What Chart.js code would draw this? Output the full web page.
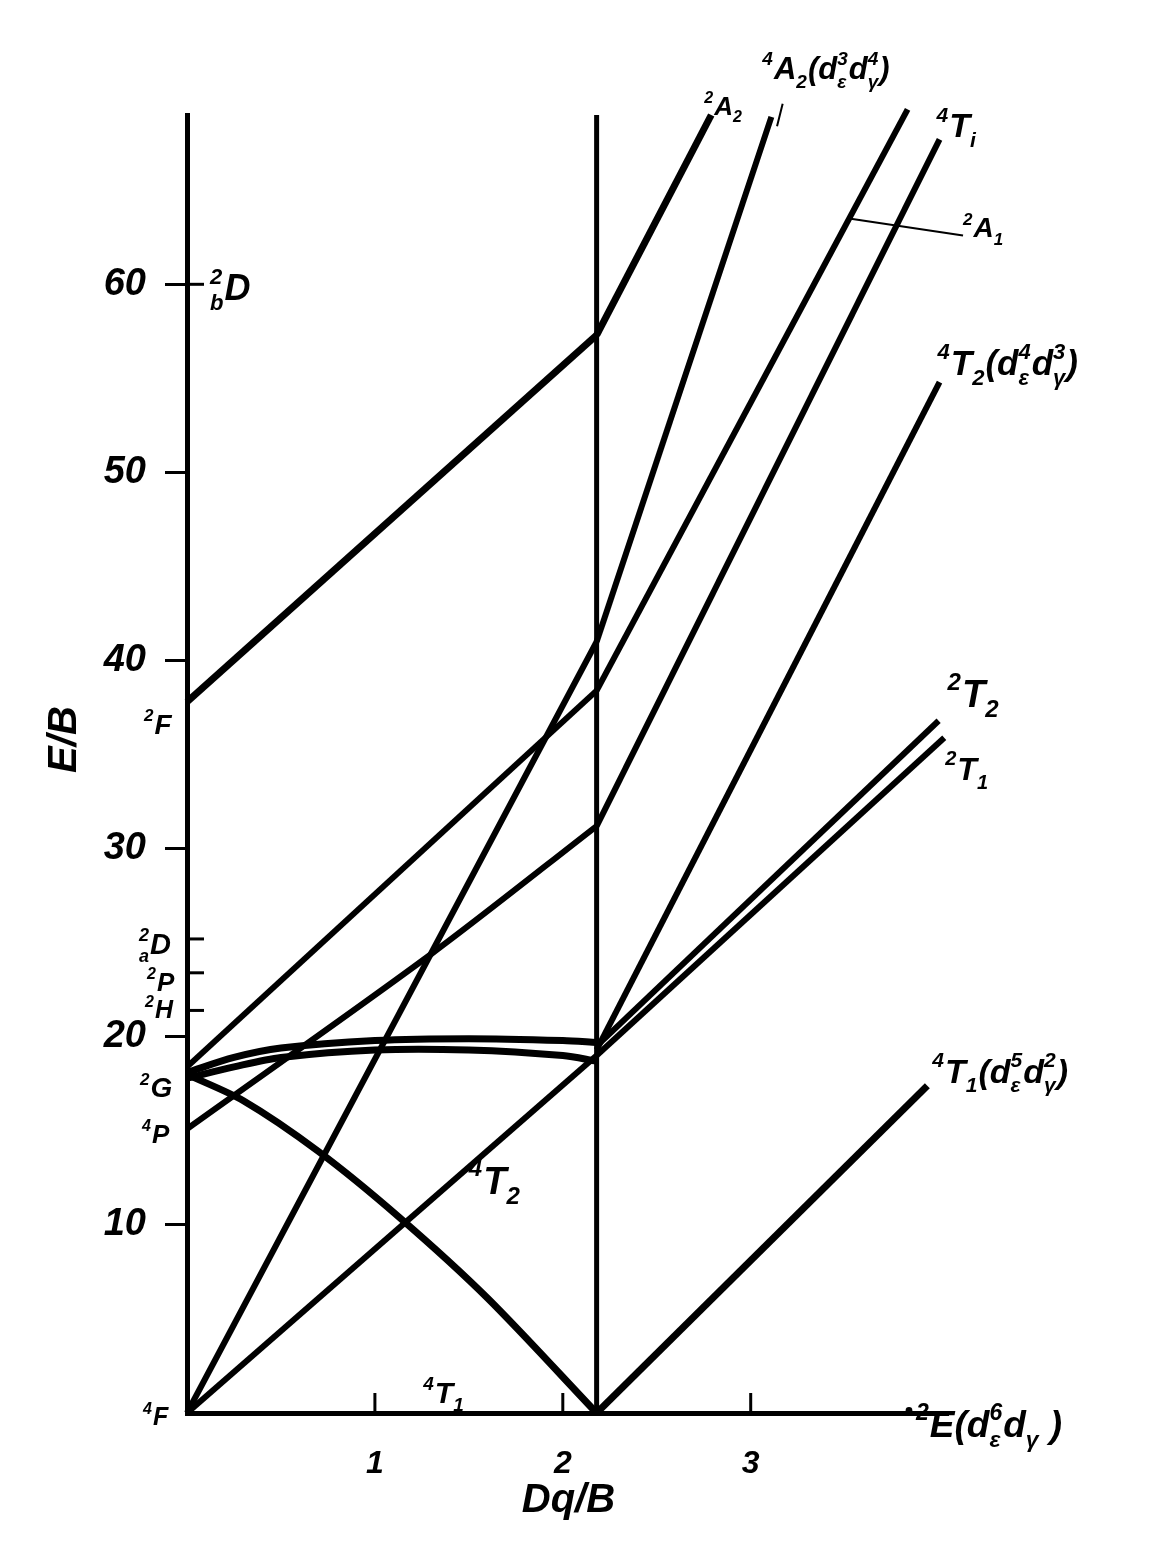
<!DOCTYPE html>
<html><head><meta charset="utf-8">
<script src="https://cdn.jsdelivr.net/npm/chart.js@4.4.1/dist/chart.umd.min.js"></script>
<style>html,body{margin:0;padding:0;background:#fff}canvas{display:block}</style>
</head><body>
<canvas id="c" width="1151" height="1556"></canvas>
<script>
// ---- data ----
const crossover = 2.18;
const yMax = 69;
const xMax = 4.05;
const yTicks = [10, 20, 30, 40, 50, 60];
const xTicks = [1, 2, 3];
const termTickLevels = [21.4, 23.4, 25.2]; // 2H, 2P, 2aD (60 = 2bD)

const line2F_left   = [[0,37.8],[2.18,57.3]];
const line2A2_right = [[2.18,57.3],[2.79,69.0]];
const line4A2_left  = [[0,0],[2.18,41.0]];
const line4A2_right = [[2.18,41.0],[3.11,68.9]];
const line2A1_left  = [[0,18.4],[2.18,38.4]];
const line2A1_right = [[2.18,38.4],[3.835,69.3]];
const line4T1P_left = [[0,15.1],[1.3,24.4],[2.18,31.2]];
const line4T1P_right= [[2.18,31.2],[4.005,67.7]];
const line2T2_left  = [[0,18.1],[0.25,18.9],[0.5,19.4],[1.0,19.8],[1.5,19.9],[2.0,19.8],[2.18,19.7]];
const line2T1_left  = [[0,17.8],[0.25,18.4],[0.5,18.9],[1.0,19.3],[1.5,19.3],[2.0,19.0],[2.18,18.7]];
const line2E_left   = [[0,18.0],[0.3,16.6],[0.7,13.9],[1.13,10.4],[1.6,6.1],[2.18,0]];
const line4T2_left  = [[0,0],[2.18,19.0]];
const line4T2_right = [[2.18,19.3],[4.005,54.8]];
const line2T2_right = [[2.18,19.5],[4.0,36.8]];
const line2T1_right = [[2.18,19.0],[4.03,35.9]];
const line4T1_right = [[2.18,0],[3.94,17.4]];
const crossLine     = [[crossover,0],[crossover,yMax]];

const FONT = '"Liberation Sans", "DejaVu Sans", sans-serif';

function ds(arr, w, curved) {
  return {
    data: arr.map(p => ({x: p[0], y: p[1]})),
    showLine: true, pointRadius: 0, borderColor: '#000', borderWidth: w,
    tension: curved ? 0.3 : 0, cubicInterpolationMode: 'default',
    clip: false, fill: false, borderJoinStyle: 'round'
  };
}

function drawRich(ctx, x, y, tokens, size) {
  const big = `italic bold ${size}px ${FONT}`;
  const small = `italic bold ${Math.round(size * 0.62)}px ${FONT}`;
  let cx = x;
  ctx.textBaseline = 'alphabetic';
  ctx.textAlign = 'left';
  for (const tk of tokens) {
    if (typeof tk === 'string') {
      ctx.font = big; ctx.fillText(tk, cx, y); cx += ctx.measureText(tk).width;
    } else if (tk.dot) {
      ctx.beginPath(); ctx.arc(cx + 3, y - size * 0.72, size * 0.09, 0, Math.PI * 2); ctx.fill();
      cx += 10;
    } else {
      ctx.font = small; let w = 0;
      if (tk.sup) { ctx.fillText(tk.sup, cx, y - size * 0.45); w = Math.max(w, ctx.measureText(tk.sup).width); }
      if (tk.sub) { ctx.fillText(tk.sub, cx, y + size * 0.28); w = Math.max(w, ctx.measureText(tk.sub).width); }
      cx += w + 1;
    }
  }
}

// labels: anchor in data units, pixel offset for baseline-left, tokens, size
const labels = [
  {at:[0,60],    off:[23,16],  size:36, t:[{sup:'2',sub:'b'},'D']},
  {at:[0,37.8],  off:[-43,32], size:28, t:[{sup:'2'},'F']},
  {at:[0,25.2],  off:[-48,15], size:29, t:[{sup:'2',sub:'a'},'D']},
  {at:[0,23.4],  off:[-40,18], size:26, t:[{sup:'2'},'P']},
  {at:[0,21.4],  off:[-42,8],  size:25, t:[{sup:'2'},'H']},
  {at:[0,18.0],  off:[-47,23], size:28, t:[{sup:'2'},'G']},
  {at:[0,15.1],  off:[-45,14], size:26, t:[{sup:'4'},'P']},
  {at:[0,0],     off:[-44,12], size:25, t:[{sup:'4'},'F']},
  {at:[1.3,0],   off:[-8,-10], size:30, t:[{sup:'4'},'T',{sub:'1'}]},
  {at:[1.5,13.1],off:[0,27],   size:38, t:[{sup:'4'},'T',{sub:'2'}]},
  {at:[4.05,0],  off:[-42,24], size:37, t:[{dot:true},{sup:'2'},'E(d',{sup:'6',sub:'ε'},'d',{sub:'γ'},' )']},
  {at:[2.79,69], off:[-7,0],   size:26, t:[{sup:'2'},'A',{sub:'2'}]},
  {at:[3.11,68.9],off:[-9,-38],size:31, t:[{sup:'4'},'A',{sub:'2'},'(d',{sup:'3',sub:'ε'},'d',{sup:'4',sub:'γ'},')']},
  {at:[4.005,67.7],off:[-3,-2],size:34, t:[{sup:'4'},'T',{sub:'i'}]},
  {at:[4.13,62.6],off:[0,2],   size:28, t:[{sup:'2'},'A',{sub:'1'}]},
  {at:[4.005,54.8],off:[-2,-7],size:35, t:[{sup:'4'},'T',{sub:'2'},'(d',{sup:'4',sub:'ε'},'d',{sup:'3',sub:'γ'},')']},
  {at:[4.0,36.8], off:[9,-14], size:38, t:[{sup:'2'},'T',{sub:'2'}]},
  {at:[4.03,35.9],off:[1,42],  size:32, t:[{sup:'2'},'T',{sub:'1'}]},
  {at:[3.94,17.4],off:[5,-3],  size:34, t:[{sup:'4'},'T',{sub:'1'},'(d',{sup:'5',sub:'ε'},'d',{sup:'2',sub:'γ'},')']}
];
// leader lines (data units)
const leaders = [
  [[3.524,63.5],[4.13,62.6]],   // 2A1
  [[3.14,68.4],[3.17,69.6]]     // 4A2
];

const annot = {
  id: 'annot',
  afterDraw(chart) {
    const ctx = chart.ctx, xs = chart.scales.x, ys = chart.scales.y;
    const X = v => xs.getPixelForValue(v), Y = v => ys.getPixelForValue(v);
    ctx.save();
    ctx.fillStyle = '#000'; ctx.strokeStyle = '#000';
    ctx.lineWidth = 3;
    xTicks.forEach(v => { ctx.beginPath(); ctx.moveTo(X(v), Y(0)); ctx.lineTo(X(v), Y(0) - 20); ctx.stroke(); });
    termTickLevels.concat([60]).forEach(v => { ctx.beginPath(); ctx.moveTo(X(0), Y(v)); ctx.lineTo(X(0) + 17, Y(v)); ctx.stroke(); });
    ctx.lineWidth = 2;
    leaders.forEach(l => { ctx.beginPath(); ctx.moveTo(X(l[0][0]), Y(l[0][1])); ctx.lineTo(X(l[1][0]), Y(l[1][1])); ctx.stroke(); });
    labels.forEach(L => drawRich(ctx, X(L.at[0]) + L.off[0], Y(L.at[1]) + L.off[1], L.t, L.size));
    ctx.font = `italic bold 40px ${FONT}`;
    ctx.textAlign = 'center'; ctx.textBaseline = 'middle';
    ctx.fillText('Dq/B', X(2.03), Y(0) + 88);
    ctx.save();
    ctx.translate(X(0) - 122, Y(35.8));
    ctx.rotate(-Math.PI / 2);
    ctx.fillText('E/B', 0, 0);
    ctx.restore();
    ctx.restore();
  }
};

const series = [
  ds(crossLine, 5, false),
  ds(line2F_left, 7, false), ds(line2A2_right, 7, false),
  ds(line4A2_left, 6, false), ds(line4A2_right, 6, false),
  ds(line2A1_left, 6, false), ds(line2A1_right, 6, false),
  ds(line4T1P_left, 6, true), ds(line4T1P_right, 6, false),
  ds(line2T2_left, 7, true), ds(line2T1_left, 7, true),
  ds(line2E_left, 7, true),
  ds(line4T2_left, 6, false), ds(line4T2_right, 6, false),
  ds(line2T2_right, 6, false), ds(line2T1_right, 6, false),
  ds(line4T1_right, 7, false)
];

new Chart(document.getElementById('c'), {
  type: 'scatter',
  data: { datasets: series },
  options: {
    responsive: false, animation: false, devicePixelRatio: 1,
    layout: { padding: { left: 0, top: 115, right: 203, bottom: 0 } },
    plugins: { legend: { display: false }, tooltip: { enabled: false } },
    scales: {
      x: {
        type: 'linear', min: 0, max: xMax,
        afterFit(s) { s.height = 143; },
        afterBuildTicks(s) { s.ticks = xTicks.map(v => ({ value: v })); },
        grid: { display: false, drawTicks: false },
        border: { display: true, width: 5, color: '#000' },
        ticks: { color: '#000', padding: 32, maxRotation: 0, autoSkip: false,
                 font: { family: FONT, size: 32, style: 'italic', weight: 'bold' } }
      },
      y: {
        type: 'linear', min: 0, max: yMax,
        afterFit(s) { s.width = 187; },
        afterBuildTicks(s) { s.ticks = yTicks.map(v => ({ value: v })); },
        grid: { display: true, drawOnChartArea: false, drawTicks: true, tickLength: 22, lineWidth: 3, color: '#000' },
        border: { display: true, width: 5, color: '#000' },
        ticks: { color: '#000', padding: 19, autoSkip: false,
                 font: { family: FONT, size: 38, style: 'italic', weight: 'bold' } }
      }
    }
  },
  plugins: [annot]
});
</script>
</body></html>
